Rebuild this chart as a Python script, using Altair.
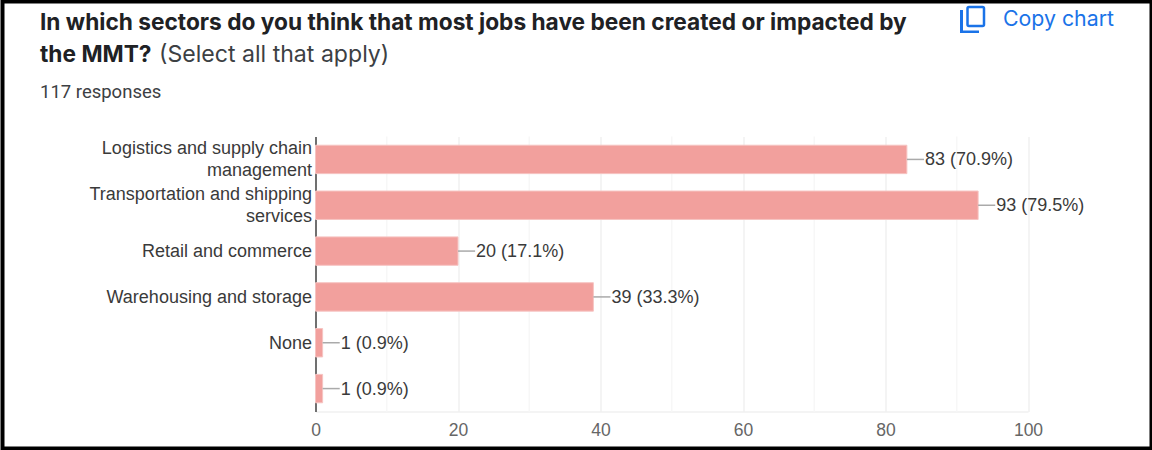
import altair as alt
import pandas as pd

# Survey results
categories = ["Logistics and supply chain|management", "Transportation and shipping|services",
              "Retail and commerce", "Warehousing and storage", "None", " "]
counts = [83, 93, 20, 39, 1, 1]
shares = ["70.9%", "79.5%", "17.1%", "33.3%", "0.9%", "0.9%"]
major_ticks = [0, 20, 40, 60, 80, 100]
minor_ticks = [10, 30, 50, 70, 90]

LEFT, TOP, W, H = 315.5, 136.5, 712.5, 275
SANS = "Liberation Sans"
UI = "Inter"
BLUE = "#1a73e8"

df = pd.DataFrame({"category": categories, "count": counts, "share": shares})
df["label"] = [f"{c} ({s})" for c, s in zip(counts, shares)]

x_scale = alt.Scale(domain=[0, 100], nice=False)
y_scale = alt.Scale(domain=categories, paddingInner=0.38, paddingOuter=0.19)

x_axis = alt.Axis(
    values=major_ticks, title=None, grid=True, gridColor="#f0f0f0", gridWidth=1.5,
    domain=True, domainColor="#f0f0f0", domainWidth=1.5, ticks=False,
    labelFont=SANS, labelFontSize=17.5, labelColor="#666666", labelPadding=10,
    format="d", labelFlush=False)

# Two-line category labels are lifted half a line so they sit centred on their bar
y_axis = alt.Axis(
    title=None, ticks=False, domain=True, domainColor="#444444", domainWidth=1.5,
    grid=False, labelExpr="split(datum.label, '|')", labelFont=SANS, labelFontSize=18,
    labelColor="#3a3a3a", labelPadding=4, labelLineHeight=22, labelLimit=300,
    labelOffset={"condition": {"test": "indexof(datum.value, '|') >= 0", "value": -10}, "value": 1})


def px(x):
    return x - LEFT


def py(y):
    return y - TOP


def note(text, x, y, size, weight="normal", color="#202124", font=UI):
    # One line of page text placed in page coordinates
    return alt.Chart(pd.DataFrame({"t": [text]})).mark_text(
        align="left", baseline="alphabetic", font=font, fontSize=size,
        fontWeight=weight, color=color
    ).encode(x=alt.value(px(x)), y=alt.value(py(y)), text="t:N")


def frame(x0, x1, y0, y1, **style):
    return alt.Chart(pd.DataFrame({"a": [0]})).mark_rect(**style).encode(
        x=alt.value(px(x0)), x2=alt.value(px(x1)),
        y=alt.value(py(y0)), y2=alt.value(py(y1)))


minor_grid = alt.Chart(pd.DataFrame({"v": minor_ticks})).mark_rule(
    color="#f7f7f7", strokeWidth=1.5
).encode(x=alt.X("v:Q", scale=x_scale, axis=x_axis))

bars = alt.Chart(df).mark_bar(color="#f2a09d", stroke="#f6c4c2", strokeWidth=1).encode(
    x=alt.X("count:Q", scale=x_scale, axis=x_axis),
    y=alt.Y("category:N", scale=y_scale, sort=categories, axis=y_axis),
)

base = alt.Chart(df).transform_calculate(tip="datum.count + 2.4")

leaders = base.mark_rule(color="#aaaaaa", strokeWidth=1.5).encode(
    x=alt.X("count:Q", scale=x_scale), x2="tip:Q",
    y=alt.Y("category:N", scale=y_scale, sort=categories, bandPosition=0.5))

value_labels = base.mark_text(
    align="left", baseline="middle", font=SANS, fontSize=18, color="#3a3a3a", dx=1, dy=1
).encode(
    x=alt.X("tip:Q", scale=x_scale),
    y=alt.Y("category:N", scale=y_scale, sort=categories, bandPosition=0.5),
    text="label:N")

chart = alt.layer(
    minor_grid, bars, leaders, value_labels,
    note("In which sectors do you think that most jobs have been created or impacted by", 40, 30, 22.7, "bold"),
    note("the MMT?", 40, 62, 22.7, "bold"),
    note("(Select all that apply)", 159, 62, 23.1, "normal", "#3c4043"),
    note("117 responses", 40, 98, 18.5, "normal", "#3c4043", "Roboto"),
    note("Copy chart", 1003, 26, 21.3, "normal", BLUE),
    frame(967.5, 984, 7, 26, fill=None, stroke=BLUE, strokeWidth=2.5, cornerRadius=1.5),
    frame(961, 962, 11, 31.5, fill=None, stroke=BLUE, strokeWidth=2),
    frame(961, 978, 31.5, 32, fill=None, stroke=BLUE, strokeWidth=2),
    frame(2.5, 1151.5, 1.5, 448.5, fill=None, stroke="#000000", strokeWidth=4),
).properties(
    width=W, height=H, background="#ffffff",
    padding={"left": LEFT, "top": TOP, "right": 1152 - LEFT - W, "bottom": 450 - TOP - H},
    autosize=alt.AutoSizeParams(type="none"),
).configure_view(stroke=None)

chart.save("out.html", embed_options={"renderer": "svg", "actions": False})
